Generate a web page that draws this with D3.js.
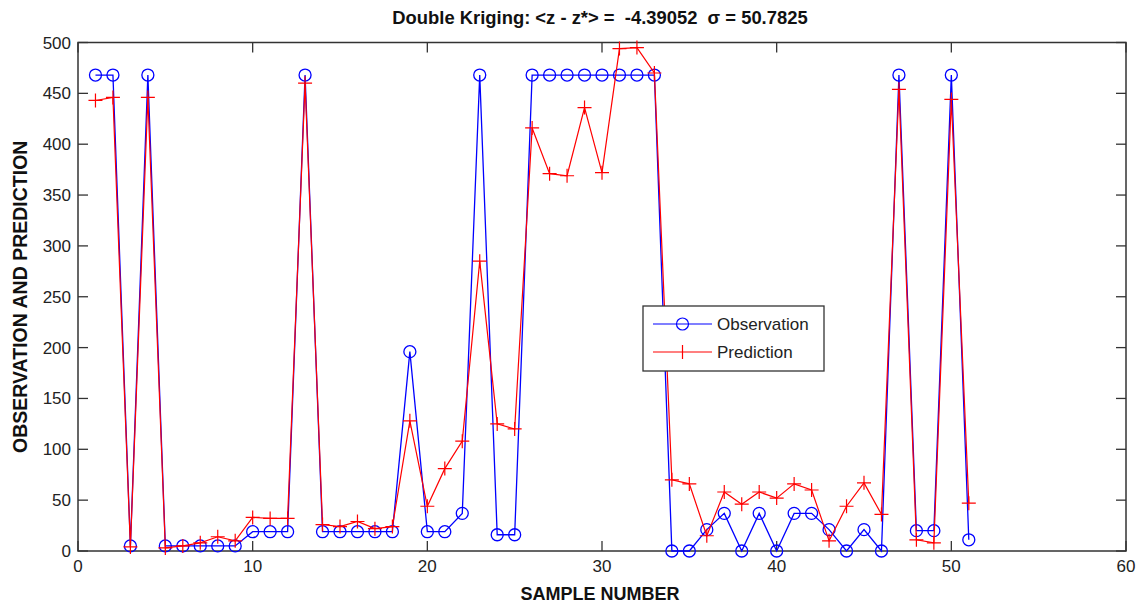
<!DOCTYPE html>
<html>
<head>
<meta charset="utf-8">
<script src="https://cdn.jsdelivr.net/npm/d3@7"></script>
<style>
  html, body { margin: 0; padding: 0; background: #fff; }
  svg { display: block; }
  .tick-label { font-family: "Liberation Sans Narrow", "Arial Narrow", "Liberation Sans", Arial, sans-serif; font-size: 17px; fill: #222; }
  .title, .axis-title { font-family: "Liberation Sans Narrow", "Arial Narrow", "Liberation Sans", Arial, sans-serif; font-weight: bold; fill: #111; white-space: pre; }
  .legend-text { font-family: "Liberation Sans", Arial, sans-serif; font-size: 17px; fill: #222; }
</style>
</head>
<body>
<svg id="chart" width="1139" height="604"></svg>
<script>
// Sample indices 1..51
const sampleNumbers = d3.range(1, 52);

// Observed values per sample
const observation = [
  468, 468, 5, 468, 5, 5, 5, 5, 5, 19,
  19, 19, 468, 19, 19, 19, 19, 19, 196, 19,
  19, 37, 468, 16, 16, 468, 468, 468, 468, 468,
  468, 468, 468, 0, 0, 21, 37, 0, 37, 0,
  37, 37, 21, 0, 21, 0, 468, 20, 20, 468,
  11
];

// Double kriging predictions per sample
const prediction = [
  443, 446, 4, 446, 3, 5, 8, 14, 10, 33,
  32, 32, 460, 26, 24, 29, 22, 24, 128, 44,
  81, 108, 285, 125, 120, 416, 371, 369, 436, 372,
  494, 495, 470, 70, 66, 15, 58, 46, 58, 52,
  66, 60, 10, 44, 67, 36, 454, 11, 8, 444,
  47
];

const xTicks = [0, 10, 20, 30, 40, 50, 60];
const yTicks = [0, 50, 100, 150, 200, 250, 300, 350, 400, 450, 500];

const titleText = "Double Kriging: <z - z*> =  -4.39052  \u03c3 = 50.7825";
const xLabel = "SAMPLE NUMBER";
const yLabel = "OBSERVATION AND PREDICTION";
const seriesNames = ["Observation", "Prediction"];

const svg = d3.select("#chart");
const plotLeft = 78, plotRight = 1126, plotTop = 42.5, plotBottom = 551;

const x = d3.scaleLinear().domain([0, 60]).range([plotLeft, plotRight]);
const y = d3.scaleLinear().domain([0, 500]).range([plotBottom, plotTop]);

const axisColor = "#333";
const tickLen = 10;

// Axes box
svg.append("rect")
  .attr("x", plotLeft).attr("y", plotTop)
  .attr("width", plotRight - plotLeft).attr("height", plotBottom - plotTop)
  .attr("fill", "none").attr("stroke", axisColor).attr("stroke-width", 1.5);

// Inward ticks on all four sides
const tickG = svg.append("g").attr("stroke", axisColor).attr("stroke-width", 1.3);
xTicks.forEach(t => {
  tickG.append("line").attr("x1", x(t)).attr("x2", x(t)).attr("y1", plotBottom).attr("y2", plotBottom - tickLen);
  tickG.append("line").attr("x1", x(t)).attr("x2", x(t)).attr("y1", plotTop).attr("y2", plotTop + tickLen);
});
yTicks.forEach(t => {
  tickG.append("line").attr("x1", plotLeft).attr("x2", plotLeft + tickLen).attr("y1", y(t)).attr("y2", y(t));
  tickG.append("line").attr("x1", plotRight).attr("x2", plotRight - tickLen).attr("y1", y(t)).attr("y2", y(t));
});

// Tick labels
svg.append("g").selectAll("text").data(xTicks).join("text")
  .attr("class", "tick-label")
  .attr("x", d => x(d)).attr("y", plotBottom + 21)
  .attr("text-anchor", "middle")
  .text(d => d);
svg.append("g").selectAll("text").data(yTicks).join("text")
  .attr("class", "tick-label")
  .attr("x", plotLeft - 7).attr("y", d => y(d) + 6)
  .attr("text-anchor", "end")
  .text(d => d);

// Title and axis titles
svg.append("text").attr("class", "title")
  .attr("x", 600).attr("y", 24).attr("text-anchor", "middle")
  .attr("font-size", 18.4).text(titleText);
svg.append("text").attr("class", "axis-title")
  .attr("x", 600).attr("y", 600).attr("text-anchor", "middle")
  .attr("font-size", 18).text(xLabel);
svg.append("text").attr("class", "axis-title")
  .attr("transform", `translate(27,${(plotTop + plotBottom) / 2}) rotate(-90)`)
  .attr("text-anchor", "middle")
  .attr("font-size", 19.5).text(yLabel);

const obsColor = "#0000ff";
const predColor = "#ff0000";

const line = d3.line().x((d, i) => x(sampleNumbers[i])).y(d => y(d));

// Observation series: line + circle markers
svg.append("path").datum(observation)
  .attr("d", line).attr("fill", "none")
  .attr("stroke", obsColor).attr("stroke-width", 1.3);
svg.append("g").selectAll("circle").data(observation).join("circle")
  .attr("cx", (d, i) => x(sampleNumbers[i])).attr("cy", d => y(d))
  .attr("r", 6).attr("fill", "none")
  .attr("stroke", obsColor).attr("stroke-width", 1.3);

// Prediction series: line + plus markers
svg.append("path").datum(prediction)
  .attr("d", line).attr("fill", "none")
  .attr("stroke", predColor).attr("stroke-width", 1.2);
const plusSize = 7;
svg.append("g").selectAll("path").data(prediction).join("path")
  .attr("d", (d, i) => {
    const cx = x(sampleNumbers[i]), cy = y(d);
    return `M${cx - plusSize},${cy}H${cx + plusSize}M${cx},${cy - plusSize}V${cy + plusSize}`;
  })
  .attr("fill", "none").attr("stroke", predColor).attr("stroke-width", 1.2);

// Legend
const lg = svg.append("g");
lg.append("rect")
  .attr("x", 643).attr("y", 306).attr("width", 181).attr("height", 65)
  .attr("fill", "#fff").attr("stroke", axisColor).attr("stroke-width", 1.3);
const rows = [
  { name: seriesNames[0], color: obsColor, y: 324, marker: "circle" },
  { name: seriesNames[1], color: predColor, y: 352, marker: "plus" }
];
rows.forEach(r => {
  lg.append("line").attr("x1", 653).attr("x2", 712).attr("y1", r.y).attr("y2", r.y)
    .attr("stroke", r.color).attr("stroke-width", 1.2);
  if (r.marker === "circle") {
    lg.append("circle").attr("cx", 682.5).attr("cy", r.y).attr("r", 6)
      .attr("fill", "none").attr("stroke", r.color).attr("stroke-width", 1.2);
  } else {
    lg.append("line").attr("x1", 682.5).attr("x2", 682.5).attr("y1", r.y - plusSize).attr("y2", r.y + plusSize)
      .attr("stroke", r.color).attr("stroke-width", 1.2);
  }
  lg.append("text").attr("class", "legend-text")
    .attr("x", 717).attr("y", r.y + 6).text(r.name);
});
</script>
</body>
</html>
